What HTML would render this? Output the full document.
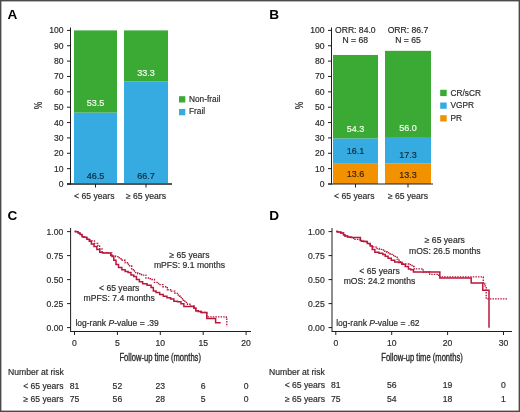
<!DOCTYPE html>
<html><head><meta charset="utf-8"><style>
html,body{margin:0;padding:0;background:#fff;}
svg{display:block;font-family:"Liberation Sans", sans-serif;will-change:transform;}
</style></head><body>
<svg width="520" height="412" viewBox="0 0 520 412">
<rect x="0" y="0" width="520" height="412" fill="#fff"/>
<text x="7.6" y="18.7" font-size="13.6" fill="#000" text-anchor="start" font-weight="bold"  >A</text>
<line x1="70.5" y1="27.5" x2="70.5" y2="184.5" stroke="#1e1e1e" stroke-width="1"/>
<line x1="67.0" y1="184.0" x2="70.5" y2="184.0" stroke="#1e1e1e" stroke-width="1"/>
<text x="63.5" y="187.0" font-size="8.6" fill="#2b2b2b" text-anchor="end" font-weight="normal" stroke="#2b2b2b" stroke-width="0.18" >0</text>
<line x1="67.0" y1="168.64" x2="70.5" y2="168.64" stroke="#1e1e1e" stroke-width="1"/>
<text x="63.5" y="171.64" font-size="8.6" fill="#2b2b2b" text-anchor="end" font-weight="normal" stroke="#2b2b2b" stroke-width="0.18" >10</text>
<line x1="67.0" y1="153.28" x2="70.5" y2="153.28" stroke="#1e1e1e" stroke-width="1"/>
<text x="63.5" y="156.28" font-size="8.6" fill="#2b2b2b" text-anchor="end" font-weight="normal" stroke="#2b2b2b" stroke-width="0.18" >20</text>
<line x1="67.0" y1="137.92000000000002" x2="70.5" y2="137.92000000000002" stroke="#1e1e1e" stroke-width="1"/>
<text x="63.5" y="140.92" font-size="8.6" fill="#2b2b2b" text-anchor="end" font-weight="normal" stroke="#2b2b2b" stroke-width="0.18" >30</text>
<line x1="67.0" y1="122.56" x2="70.5" y2="122.56" stroke="#1e1e1e" stroke-width="1"/>
<text x="63.5" y="125.56" font-size="8.6" fill="#2b2b2b" text-anchor="end" font-weight="normal" stroke="#2b2b2b" stroke-width="0.18" >40</text>
<line x1="67.0" y1="107.2" x2="70.5" y2="107.2" stroke="#1e1e1e" stroke-width="1"/>
<text x="63.5" y="110.2" font-size="8.6" fill="#2b2b2b" text-anchor="end" font-weight="normal" stroke="#2b2b2b" stroke-width="0.18" >50</text>
<line x1="67.0" y1="91.84" x2="70.5" y2="91.84" stroke="#1e1e1e" stroke-width="1"/>
<text x="63.5" y="94.84" font-size="8.6" fill="#2b2b2b" text-anchor="end" font-weight="normal" stroke="#2b2b2b" stroke-width="0.18" >60</text>
<line x1="67.0" y1="76.48" x2="70.5" y2="76.48" stroke="#1e1e1e" stroke-width="1"/>
<text x="63.5" y="79.48" font-size="8.6" fill="#2b2b2b" text-anchor="end" font-weight="normal" stroke="#2b2b2b" stroke-width="0.18" >70</text>
<line x1="67.0" y1="61.120000000000005" x2="70.5" y2="61.120000000000005" stroke="#1e1e1e" stroke-width="1"/>
<text x="63.5" y="64.12" font-size="8.6" fill="#2b2b2b" text-anchor="end" font-weight="normal" stroke="#2b2b2b" stroke-width="0.18" >80</text>
<line x1="67.0" y1="45.75999999999999" x2="70.5" y2="45.75999999999999" stroke="#1e1e1e" stroke-width="1"/>
<text x="63.5" y="48.76" font-size="8.6" fill="#2b2b2b" text-anchor="end" font-weight="normal" stroke="#2b2b2b" stroke-width="0.18" >90</text>
<line x1="67.0" y1="30.400000000000006" x2="70.5" y2="30.400000000000006" stroke="#1e1e1e" stroke-width="1"/>
<text x="63.5" y="33.4" font-size="8.6" fill="#2b2b2b" text-anchor="end" font-weight="normal" stroke="#2b2b2b" stroke-width="0.18" >100</text>
<line x1="67" y1="184" x2="172" y2="184" stroke="#1e1e1e" stroke-width="1"/>
<text x="0" y="0" font-size="10.5" fill="#2b2b2b" text-anchor="middle" font-weight="normal" stroke="#2b2b2b" stroke-width="0.18" transform="translate(42 105.5) rotate(-90) scale(0.8 1)">%</text>
<rect x="74" y="112.58" width="43" height="71.42" fill="#35abe2"/>
<rect x="74" y="30.4" width="43" height="82.18" fill="#3aaa35"/>
<rect x="124" y="81.55" width="44" height="102.45" fill="#35abe2"/>
<rect x="124" y="30.4" width="44" height="51.15" fill="#3aaa35"/>
<line x1="67" y1="184" x2="172" y2="184" stroke="#1e1e1e" stroke-width="1"/>
<line x1="95.5" y1="184" x2="95.5" y2="187.5" stroke="#1e1e1e" stroke-width="1"/>
<line x1="146" y1="184" x2="146" y2="187.5" stroke="#1e1e1e" stroke-width="1"/>
<text x="95.5" y="106" font-size="9" fill="#f4fbf2" text-anchor="middle" font-weight="normal" stroke="#f4fbf2" stroke-width="0.18" >53.5</text>
<text x="95.5" y="178.8" font-size="9" fill="#0f2c40" text-anchor="middle" font-weight="normal" stroke="#0f2c40" stroke-width="0.18" >46.5</text>
<text x="146" y="75.9" font-size="9" fill="#f4fbf2" text-anchor="middle" font-weight="normal" stroke="#f4fbf2" stroke-width="0.18" >33.3</text>
<text x="146" y="178.8" font-size="9" fill="#0f2c40" text-anchor="middle" font-weight="normal" stroke="#0f2c40" stroke-width="0.18" >66.7</text>
<text x="94.3" y="199" font-size="8.6" fill="#2b2b2b" text-anchor="middle" font-weight="normal" stroke="#2b2b2b" stroke-width="0.18" >&lt; 65 years</text>
<text x="146" y="199" font-size="8.6" fill="#2b2b2b" text-anchor="middle" font-weight="normal" stroke="#2b2b2b" stroke-width="0.18" >≥ 65 years</text>
<rect x="179" y="96.2" width="6.3" height="6.3" fill="#3aaa35"/>
<rect x="179" y="109" width="6.3" height="6.3" fill="#35abe2"/>
<text x="189" y="101.8" font-size="8.3" fill="#2b2b2b" text-anchor="start" font-weight="normal" stroke="#2b2b2b" stroke-width="0.18" >Non-frail</text>
<text x="189" y="114.2" font-size="8.3" fill="#2b2b2b" text-anchor="start" font-weight="normal" stroke="#2b2b2b" stroke-width="0.18" >Frail</text>
<text x="269.3" y="18.7" font-size="13.6" fill="#000" text-anchor="start" font-weight="bold"  >B</text>
<line x1="331.5" y1="27.5" x2="331.5" y2="184.5" stroke="#1e1e1e" stroke-width="1"/>
<line x1="328.0" y1="184.0" x2="331.5" y2="184.0" stroke="#1e1e1e" stroke-width="1"/>
<text x="324.5" y="187.0" font-size="8.6" fill="#2b2b2b" text-anchor="end" font-weight="normal" stroke="#2b2b2b" stroke-width="0.18" >0</text>
<line x1="328.0" y1="168.64" x2="331.5" y2="168.64" stroke="#1e1e1e" stroke-width="1"/>
<text x="324.5" y="171.64" font-size="8.6" fill="#2b2b2b" text-anchor="end" font-weight="normal" stroke="#2b2b2b" stroke-width="0.18" >10</text>
<line x1="328.0" y1="153.28" x2="331.5" y2="153.28" stroke="#1e1e1e" stroke-width="1"/>
<text x="324.5" y="156.28" font-size="8.6" fill="#2b2b2b" text-anchor="end" font-weight="normal" stroke="#2b2b2b" stroke-width="0.18" >20</text>
<line x1="328.0" y1="137.92000000000002" x2="331.5" y2="137.92000000000002" stroke="#1e1e1e" stroke-width="1"/>
<text x="324.5" y="140.92" font-size="8.6" fill="#2b2b2b" text-anchor="end" font-weight="normal" stroke="#2b2b2b" stroke-width="0.18" >30</text>
<line x1="328.0" y1="122.56" x2="331.5" y2="122.56" stroke="#1e1e1e" stroke-width="1"/>
<text x="324.5" y="125.56" font-size="8.6" fill="#2b2b2b" text-anchor="end" font-weight="normal" stroke="#2b2b2b" stroke-width="0.18" >40</text>
<line x1="328.0" y1="107.2" x2="331.5" y2="107.2" stroke="#1e1e1e" stroke-width="1"/>
<text x="324.5" y="110.2" font-size="8.6" fill="#2b2b2b" text-anchor="end" font-weight="normal" stroke="#2b2b2b" stroke-width="0.18" >50</text>
<line x1="328.0" y1="91.84" x2="331.5" y2="91.84" stroke="#1e1e1e" stroke-width="1"/>
<text x="324.5" y="94.84" font-size="8.6" fill="#2b2b2b" text-anchor="end" font-weight="normal" stroke="#2b2b2b" stroke-width="0.18" >60</text>
<line x1="328.0" y1="76.48" x2="331.5" y2="76.48" stroke="#1e1e1e" stroke-width="1"/>
<text x="324.5" y="79.48" font-size="8.6" fill="#2b2b2b" text-anchor="end" font-weight="normal" stroke="#2b2b2b" stroke-width="0.18" >70</text>
<line x1="328.0" y1="61.120000000000005" x2="331.5" y2="61.120000000000005" stroke="#1e1e1e" stroke-width="1"/>
<text x="324.5" y="64.12" font-size="8.6" fill="#2b2b2b" text-anchor="end" font-weight="normal" stroke="#2b2b2b" stroke-width="0.18" >80</text>
<line x1="328.0" y1="45.75999999999999" x2="331.5" y2="45.75999999999999" stroke="#1e1e1e" stroke-width="1"/>
<text x="324.5" y="48.76" font-size="8.6" fill="#2b2b2b" text-anchor="end" font-weight="normal" stroke="#2b2b2b" stroke-width="0.18" >90</text>
<line x1="328.0" y1="30.400000000000006" x2="331.5" y2="30.400000000000006" stroke="#1e1e1e" stroke-width="1"/>
<text x="324.5" y="33.4" font-size="8.6" fill="#2b2b2b" text-anchor="end" font-weight="normal" stroke="#2b2b2b" stroke-width="0.18" >100</text>
<text x="0" y="0" font-size="10.5" fill="#2b2b2b" text-anchor="middle" font-weight="normal" stroke="#2b2b2b" stroke-width="0.18" transform="translate(302.8 105.5) rotate(-90) scale(0.8 1)">%</text>
<rect x="333" y="163.11" width="45" height="20.89" fill="#f39200"/>
<rect x="333" y="138.38" width="45" height="24.73" fill="#35abe2"/>
<rect x="333" y="54.98" width="45" height="83.4" fill="#3aaa35"/>
<rect x="385" y="163.57" width="46" height="20.43" fill="#f39200"/>
<rect x="385" y="137.0" width="46" height="26.57" fill="#35abe2"/>
<rect x="385" y="50.83" width="46" height="86.17" fill="#3aaa35"/>
<line x1="328" y1="184" x2="433" y2="184" stroke="#1e1e1e" stroke-width="1"/>
<line x1="355.5" y1="184" x2="355.5" y2="187.5" stroke="#1e1e1e" stroke-width="1"/>
<line x1="408" y1="184" x2="408" y2="187.5" stroke="#1e1e1e" stroke-width="1"/>
<text x="355.5" y="131.8" font-size="9" fill="#f4fbf2" text-anchor="middle" font-weight="normal" stroke="#f4fbf2" stroke-width="0.18" >54.3</text>
<text x="355.5" y="153.6" font-size="9" fill="#0f2c40" text-anchor="middle" font-weight="normal" stroke="#0f2c40" stroke-width="0.18" >16.1</text>
<text x="355.5" y="176.5" font-size="9" fill="#3a2306" text-anchor="middle" font-weight="normal" stroke="#3a2306" stroke-width="0.18" >13.6</text>
<text x="408" y="131.2" font-size="9" fill="#f4fbf2" text-anchor="middle" font-weight="normal" stroke="#f4fbf2" stroke-width="0.18" >56.0</text>
<text x="408" y="157.7" font-size="9" fill="#0f2c40" text-anchor="middle" font-weight="normal" stroke="#0f2c40" stroke-width="0.18" >17.3</text>
<text x="408" y="177.7" font-size="9" fill="#3a2306" text-anchor="middle" font-weight="normal" stroke="#3a2306" stroke-width="0.18" >13.3</text>
<text x="355.3" y="33" font-size="8.6" fill="#2b2b2b" text-anchor="middle" font-weight="normal" stroke="#2b2b2b" stroke-width="0.18" >ORR: 84.0</text>
<text x="355.3" y="42.8" font-size="8.6" fill="#2b2b2b" text-anchor="middle" font-weight="normal" stroke="#2b2b2b" stroke-width="0.18" >N = 68</text>
<text x="408" y="33" font-size="8.6" fill="#2b2b2b" text-anchor="middle" font-weight="normal" stroke="#2b2b2b" stroke-width="0.18" >ORR: 86.7</text>
<text x="408" y="43" font-size="8.6" fill="#2b2b2b" text-anchor="middle" font-weight="normal" stroke="#2b2b2b" stroke-width="0.18" >N = 65</text>
<text x="354.3" y="198.6" font-size="8.6" fill="#2b2b2b" text-anchor="middle" font-weight="normal" stroke="#2b2b2b" stroke-width="0.18" >&lt; 65 years</text>
<text x="408" y="198.6" font-size="8.6" fill="#2b2b2b" text-anchor="middle" font-weight="normal" stroke="#2b2b2b" stroke-width="0.18" >≥ 65 years</text>
<rect x="440.2" y="89.8" width="6.5" height="6.3" fill="#3aaa35"/>
<rect x="440.2" y="102.5" width="6.5" height="6.3" fill="#35abe2"/>
<rect x="440.2" y="115.2" width="6.5" height="6.3" fill="#f39200"/>
<text x="450.5" y="95.6" font-size="8.3" fill="#2b2b2b" text-anchor="start" font-weight="normal" stroke="#2b2b2b" stroke-width="0.18" >CR/sCR</text>
<text x="450.5" y="108.4" font-size="8.3" fill="#2b2b2b" text-anchor="start" font-weight="normal" stroke="#2b2b2b" stroke-width="0.18" >VGPR</text>
<text x="450.5" y="121.1" font-size="8.3" fill="#2b2b2b" text-anchor="start" font-weight="normal" stroke="#2b2b2b" stroke-width="0.18" >PR</text>
<text x="7.5" y="220.2" font-size="13.6" fill="#000" text-anchor="start" font-weight="bold"  >C</text>
<line x1="70.6" y1="228" x2="70.6" y2="332" stroke="#1e1e1e" stroke-width="1"/>
<line x1="70.6" y1="331.5" x2="251" y2="331.5" stroke="#1e1e1e" stroke-width="1"/>
<line x1="67.1" y1="327.6" x2="70.6" y2="327.6" stroke="#1e1e1e" stroke-width="1"/>
<text x="63.3" y="330.6" font-size="8.6" fill="#2b2b2b" text-anchor="end" font-weight="normal" stroke="#2b2b2b" stroke-width="0.18" >0.00</text>
<line x1="67.1" y1="303.6" x2="70.6" y2="303.6" stroke="#1e1e1e" stroke-width="1"/>
<text x="63.3" y="306.6" font-size="8.6" fill="#2b2b2b" text-anchor="end" font-weight="normal" stroke="#2b2b2b" stroke-width="0.18" >0.25</text>
<line x1="67.1" y1="279.6" x2="70.6" y2="279.6" stroke="#1e1e1e" stroke-width="1"/>
<text x="63.3" y="282.6" font-size="8.6" fill="#2b2b2b" text-anchor="end" font-weight="normal" stroke="#2b2b2b" stroke-width="0.18" >0.50</text>
<line x1="67.1" y1="255.60000000000002" x2="70.6" y2="255.60000000000002" stroke="#1e1e1e" stroke-width="1"/>
<text x="63.3" y="258.6" font-size="8.6" fill="#2b2b2b" text-anchor="end" font-weight="normal" stroke="#2b2b2b" stroke-width="0.18" >0.75</text>
<line x1="67.1" y1="231.60000000000002" x2="70.6" y2="231.60000000000002" stroke="#1e1e1e" stroke-width="1"/>
<text x="63.3" y="234.6" font-size="8.6" fill="#2b2b2b" text-anchor="end" font-weight="normal" stroke="#2b2b2b" stroke-width="0.18" >1.00</text>
<line x1="74.5" y1="331.5" x2="74.5" y2="335" stroke="#1e1e1e" stroke-width="1"/>
<text x="74.5" y="346" font-size="8.6" fill="#2b2b2b" text-anchor="middle" font-weight="normal" stroke="#2b2b2b" stroke-width="0.18" >0</text>
<line x1="117.4" y1="331.5" x2="117.4" y2="335" stroke="#1e1e1e" stroke-width="1"/>
<text x="117.4" y="346" font-size="8.6" fill="#2b2b2b" text-anchor="middle" font-weight="normal" stroke="#2b2b2b" stroke-width="0.18" >5</text>
<line x1="160.3" y1="331.5" x2="160.3" y2="335" stroke="#1e1e1e" stroke-width="1"/>
<text x="160.3" y="346" font-size="8.6" fill="#2b2b2b" text-anchor="middle" font-weight="normal" stroke="#2b2b2b" stroke-width="0.18" >10</text>
<line x1="203.2" y1="331.5" x2="203.2" y2="335" stroke="#1e1e1e" stroke-width="1"/>
<text x="203.2" y="346" font-size="8.6" fill="#2b2b2b" text-anchor="middle" font-weight="normal" stroke="#2b2b2b" stroke-width="0.18" >15</text>
<line x1="246.1" y1="331.5" x2="246.1" y2="335" stroke="#1e1e1e" stroke-width="1"/>
<text x="246.1" y="346" font-size="8.6" fill="#2b2b2b" text-anchor="middle" font-weight="normal" stroke="#2b2b2b" stroke-width="0.18" >20</text>
<text x="160.2" y="361" font-size="10.5" fill="#2b2b2b" text-anchor="middle" font-weight="normal"  stroke="#2b2b2b" stroke-width="0.35" transform="translate(160.2 0) scale(0.725 1) translate(-160.2 0)">Follow-up time (months)</text>
<text x="189.5" y="257.6" font-size="8.6" fill="#2b2b2b" text-anchor="middle" font-weight="normal" stroke="#2b2b2b" stroke-width="0.18" >≥ 65 years</text>
<text x="189.5" y="268.1" font-size="8.6" fill="#2b2b2b" text-anchor="middle" font-weight="normal" stroke="#2b2b2b" stroke-width="0.18" >mPFS: 9.1 months</text>
<text x="119.2" y="290.6" font-size="8.6" fill="#2b2b2b" text-anchor="middle" font-weight="normal" stroke="#2b2b2b" stroke-width="0.18" >&lt; 65 years</text>
<text x="119.2" y="301.2" font-size="8.6" fill="#2b2b2b" text-anchor="middle" font-weight="normal" stroke="#2b2b2b" stroke-width="0.18" >mPFS: 7.4 months</text>
<text x="75.4" y="326.2" font-size="8.5" fill="#2b2b2b" text-anchor="start" font-weight="normal" stroke="#2b2b2b" stroke-width="0.18" >log-rank <tspan font-style="italic">P</tspan>-value = .39</text>
<text x="8" y="375" font-size="8.6" fill="#2b2b2b" text-anchor="start" font-weight="normal" stroke="#2b2b2b" stroke-width="0.18" >Number at risk</text>
<text x="63.5" y="388.6" font-size="8.6" fill="#2b2b2b" text-anchor="end" font-weight="normal" stroke="#2b2b2b" stroke-width="0.18" >&lt; 65 years</text>
<text x="63.5" y="402" font-size="8.6" fill="#2b2b2b" text-anchor="end" font-weight="normal" stroke="#2b2b2b" stroke-width="0.18" >≥ 65 years</text>
<text x="74.5" y="388.6" font-size="8.6" fill="#2b2b2b" text-anchor="middle" font-weight="normal" stroke="#2b2b2b" stroke-width="0.18" >81</text>
<text x="74.5" y="402" font-size="8.6" fill="#2b2b2b" text-anchor="middle" font-weight="normal" stroke="#2b2b2b" stroke-width="0.18" >75</text>
<text x="117.4" y="388.6" font-size="8.6" fill="#2b2b2b" text-anchor="middle" font-weight="normal" stroke="#2b2b2b" stroke-width="0.18" >52</text>
<text x="117.4" y="402" font-size="8.6" fill="#2b2b2b" text-anchor="middle" font-weight="normal" stroke="#2b2b2b" stroke-width="0.18" >56</text>
<text x="160.3" y="388.6" font-size="8.6" fill="#2b2b2b" text-anchor="middle" font-weight="normal" stroke="#2b2b2b" stroke-width="0.18" >23</text>
<text x="160.3" y="402" font-size="8.6" fill="#2b2b2b" text-anchor="middle" font-weight="normal" stroke="#2b2b2b" stroke-width="0.18" >28</text>
<text x="203.2" y="388.6" font-size="8.6" fill="#2b2b2b" text-anchor="middle" font-weight="normal" stroke="#2b2b2b" stroke-width="0.18" >6</text>
<text x="203.2" y="402" font-size="8.6" fill="#2b2b2b" text-anchor="middle" font-weight="normal" stroke="#2b2b2b" stroke-width="0.18" >5</text>
<text x="246.1" y="388.6" font-size="8.6" fill="#2b2b2b" text-anchor="middle" font-weight="normal" stroke="#2b2b2b" stroke-width="0.18" >0</text>
<text x="246.1" y="402" font-size="8.6" fill="#2b2b2b" text-anchor="middle" font-weight="normal" stroke="#2b2b2b" stroke-width="0.18" >0</text>
<text x="269.3" y="220.2" font-size="13.6" fill="#000" text-anchor="start" font-weight="bold"  >D</text>
<line x1="332" y1="228" x2="332" y2="332" stroke="#1e1e1e" stroke-width="1"/>
<line x1="332" y1="331.5" x2="512" y2="331.5" stroke="#1e1e1e" stroke-width="1"/>
<line x1="328.5" y1="327.6" x2="332" y2="327.6" stroke="#1e1e1e" stroke-width="1"/>
<text x="324.7" y="330.6" font-size="8.6" fill="#2b2b2b" text-anchor="end" font-weight="normal" stroke="#2b2b2b" stroke-width="0.18" >0.00</text>
<line x1="328.5" y1="303.6" x2="332" y2="303.6" stroke="#1e1e1e" stroke-width="1"/>
<text x="324.7" y="306.6" font-size="8.6" fill="#2b2b2b" text-anchor="end" font-weight="normal" stroke="#2b2b2b" stroke-width="0.18" >0.25</text>
<line x1="328.5" y1="279.6" x2="332" y2="279.6" stroke="#1e1e1e" stroke-width="1"/>
<text x="324.7" y="282.6" font-size="8.6" fill="#2b2b2b" text-anchor="end" font-weight="normal" stroke="#2b2b2b" stroke-width="0.18" >0.50</text>
<line x1="328.5" y1="255.60000000000002" x2="332" y2="255.60000000000002" stroke="#1e1e1e" stroke-width="1"/>
<text x="324.7" y="258.6" font-size="8.6" fill="#2b2b2b" text-anchor="end" font-weight="normal" stroke="#2b2b2b" stroke-width="0.18" >0.75</text>
<line x1="328.5" y1="231.60000000000002" x2="332" y2="231.60000000000002" stroke="#1e1e1e" stroke-width="1"/>
<text x="324.7" y="234.6" font-size="8.6" fill="#2b2b2b" text-anchor="end" font-weight="normal" stroke="#2b2b2b" stroke-width="0.18" >1.00</text>
<line x1="335.8" y1="331.5" x2="335.8" y2="335" stroke="#1e1e1e" stroke-width="1"/>
<text x="335.8" y="346" font-size="8.6" fill="#2b2b2b" text-anchor="middle" font-weight="normal" stroke="#2b2b2b" stroke-width="0.18" >0</text>
<line x1="391.7" y1="331.5" x2="391.7" y2="335" stroke="#1e1e1e" stroke-width="1"/>
<text x="391.7" y="346" font-size="8.6" fill="#2b2b2b" text-anchor="middle" font-weight="normal" stroke="#2b2b2b" stroke-width="0.18" >10</text>
<line x1="447.6" y1="331.5" x2="447.6" y2="335" stroke="#1e1e1e" stroke-width="1"/>
<text x="447.6" y="346" font-size="8.6" fill="#2b2b2b" text-anchor="middle" font-weight="normal" stroke="#2b2b2b" stroke-width="0.18" >20</text>
<line x1="503.5" y1="331.5" x2="503.5" y2="335" stroke="#1e1e1e" stroke-width="1"/>
<text x="503.5" y="346" font-size="8.6" fill="#2b2b2b" text-anchor="middle" font-weight="normal" stroke="#2b2b2b" stroke-width="0.18" >30</text>
<text x="422" y="361" font-size="10.5" fill="#2b2b2b" text-anchor="middle" font-weight="normal"  stroke="#2b2b2b" stroke-width="0.35" transform="translate(422 0) scale(0.725 1) translate(-422 0)">Follow-up time (months)</text>
<text x="444.8" y="243.2" font-size="8.6" fill="#2b2b2b" text-anchor="middle" font-weight="normal" stroke="#2b2b2b" stroke-width="0.18" >≥ 65 years</text>
<text x="444.8" y="254.1" font-size="8.6" fill="#2b2b2b" text-anchor="middle" font-weight="normal" stroke="#2b2b2b" stroke-width="0.18" >mOS: 26.5 months</text>
<text x="379.5" y="273.7" font-size="8.6" fill="#2b2b2b" text-anchor="middle" font-weight="normal" stroke="#2b2b2b" stroke-width="0.18" >&lt; 65 years</text>
<text x="379.5" y="283.5" font-size="8.6" fill="#2b2b2b" text-anchor="middle" font-weight="normal" stroke="#2b2b2b" stroke-width="0.18" >mOS: 24.2 months</text>
<text x="336.2" y="326.2" font-size="8.5" fill="#2b2b2b" text-anchor="start" font-weight="normal" stroke="#2b2b2b" stroke-width="0.18" >log-rank <tspan font-style="italic">P</tspan>-value = .62</text>
<text x="269" y="374.5" font-size="8.6" fill="#2b2b2b" text-anchor="start" font-weight="normal" stroke="#2b2b2b" stroke-width="0.18" >Number at risk</text>
<text x="325" y="388.4" font-size="8.6" fill="#2b2b2b" text-anchor="end" font-weight="normal" stroke="#2b2b2b" stroke-width="0.18" >&lt; 65 years</text>
<text x="325" y="402.2" font-size="8.6" fill="#2b2b2b" text-anchor="end" font-weight="normal" stroke="#2b2b2b" stroke-width="0.18" >≥ 65 years</text>
<text x="335.8" y="388.4" font-size="8.6" fill="#2b2b2b" text-anchor="middle" font-weight="normal" stroke="#2b2b2b" stroke-width="0.18" >81</text>
<text x="335.8" y="402.2" font-size="8.6" fill="#2b2b2b" text-anchor="middle" font-weight="normal" stroke="#2b2b2b" stroke-width="0.18" >75</text>
<text x="391.7" y="388.4" font-size="8.6" fill="#2b2b2b" text-anchor="middle" font-weight="normal" stroke="#2b2b2b" stroke-width="0.18" >56</text>
<text x="391.7" y="402.2" font-size="8.6" fill="#2b2b2b" text-anchor="middle" font-weight="normal" stroke="#2b2b2b" stroke-width="0.18" >54</text>
<text x="447.6" y="388.4" font-size="8.6" fill="#2b2b2b" text-anchor="middle" font-weight="normal" stroke="#2b2b2b" stroke-width="0.18" >19</text>
<text x="447.6" y="402.2" font-size="8.6" fill="#2b2b2b" text-anchor="middle" font-weight="normal" stroke="#2b2b2b" stroke-width="0.18" >18</text>
<text x="503.5" y="388.4" font-size="8.6" fill="#2b2b2b" text-anchor="middle" font-weight="normal" stroke="#2b2b2b" stroke-width="0.18" >0</text>
<text x="503.5" y="402.2" font-size="8.6" fill="#2b2b2b" text-anchor="middle" font-weight="normal" stroke="#2b2b2b" stroke-width="0.18" >1</text>
<path d="M74.6,231.5 L75.9,231.5 L75.9,231.8 L77.2,231.8 L78.1,231.8 L78.1,233.0 L79,233.0 L80.15,233.0 L80.15,234.4 L81.3,234.4 L82.05,234.4 L82.05,236.7 L82.8,236.7 L84.1,236.7 L84.1,237.3 L85.4,237.3 L86.85,237.3 L86.85,239.3 L88.3,239.3 L89.25,239.3 L89.25,241.2 L90.2,241.2 L91.35,241.2 L91.35,243.9 L92.5,243.9 L94.0,243.9 L94.0,246.5 L95.5,246.5 L96.85,246.5 L96.85,249.5 L98.2,249.5 L99.75,249.5 L99.75,252.2 L101.3,252.2 L102.5,252.2 L102.5,252.9 L103.7,252.9 L110.1,252.9 L110.7,252.9 L110.7,255.5 L111.3,255.5 L112.0,255.5 L112.0,256.6 L112.7,256.6 L113.8,256.6 L113.8,260.2 L114.9,260.2 L116.0,260.2 L116.0,264.6 L117.1,264.6 L118.55,264.6 L118.55,267.5 L120,267.5 L121.85,267.5 L121.85,269.7 L123.7,269.7 L125.15,269.7 L125.15,271.5 L126.6,271.5 L128.05,271.5 L128.05,272.6 L129.5,272.6 L130.95,272.6 L130.95,275.1 L132.4,275.1 L133.7,275.1 L133.7,276.6 L135,276.6 L136.45,276.6 L136.45,279.5 L137.9,279.5 L139.35,279.5 L139.35,281.7 L140.8,281.7 L142.65,281.7 L142.65,283.8 L144.5,283.8 L147.05,283.8 L147.05,285.3 L149.6,285.3 L151.05,285.3 L151.05,287.5 L152.5,287.5 L153.35,287.5 L153.35,291.1 L154.2,291.1 L156.0,291.1 L156.0,292.6 L157.8,292.6 L159.65,292.6 L159.65,294.4 L161.5,294.4 L163.3,294.4 L163.3,296.2 L165.1,296.2 L166.95,296.2 L166.95,297.7 L168.8,297.7 L170.6,297.7 L170.6,299.1 L172.4,299.1 L173.85,299.1 L173.85,301.3 L175.3,301.3 L177.4,301.3 L177.4,301.7 L179.5,301.7 L180.95,301.7 L180.95,303.8 L182.4,303.8 L183.85,303.8 L183.85,306.4 L185.3,306.4 L192.6,306.4 L194.05,306.4 L194.05,308.2 L195.5,308.2 L195.85,308.2 L195.85,310.8 L196.2,310.8 L198.4,310.8 L198.4,311.5 L200.6,311.5 L201.0,311.5 L201.0,312.5 L201.4,312.5 L206.8,312.5 L206.8,318.6 L215.6,318.6 L215.6,322.7 L220.7,322.7" fill="none" stroke="#b9183d" stroke-width="1.5"  stroke-linejoin="miter"/>
<path d="M74.6,231.5 L75.9,231.5 L75.9,231.8 L77.2,231.8 L78.1,231.8 L78.1,233.0 L79,233.0 L80.15,233.0 L80.15,234.4 L81.3,234.4 L82.05,234.4 L82.05,236.7 L82.8,236.7 L84.1,236.7 L84.1,237.3 L85.4,237.3 L86.85,237.3 L86.85,239.3 L88.3,239.3 L90.15,239.3 L90.15,240.8 L92,240.8 L94.45,240.8 L94.45,243.4 L96.9,243.4 L97.85,243.4 L97.85,246.0 L98.8,246.0 L99.6,246.0 L99.6,248.7 L100.4,248.7 L101.95,248.7 L101.95,252.6 L103.5,252.6 L106.8,252.6 L106.8,252.9 L110.1,252.9 L111.8,252.9 L111.8,255.8 L113.5,255.8 L115.65,255.8 L115.65,256.6 L117.8,256.6 L119.25,256.6 L119.25,258.7 L120.7,258.7 L122.2,258.7 L122.2,260.2 L123.7,260.2 L125.15,260.2 L125.15,262.7 L126.6,262.7 L128.4,262.7 L128.4,265.7 L130.2,265.7 L131.65,265.7 L131.65,269.7 L133.1,269.7 L134.55,269.7 L134.55,272.6 L136,272.6 L137.7,272.6 L137.7,273.7 L139.4,273.7 L141.55,273.7 L141.55,275.1 L143.7,275.1 L145.9,275.1 L145.9,278.0 L148.1,278.0 L150.3,278.0 L150.3,279.5 L152.5,279.5 L154.45,279.5 L154.45,282.4 L156.4,282.4 L158.55,282.4 L158.55,284.6 L160.7,284.6 L162.9,284.6 L162.9,286.7 L165.1,286.7 L167.3,286.7 L167.3,289.7 L169.5,289.7 L171.3,289.7 L171.3,291.1 L173.1,291.1 L174.95,291.1 L174.95,293.3 L176.8,293.3 L178.25,293.3 L178.25,296.2 L179.7,296.2 L180.3,296.2 L180.3,297.3 L180.9,297.3 L182.35,297.3 L182.35,300.2 L183.8,300.2 L184.9,300.2 L184.9,302.4 L186,302.4 L187.45,302.4 L187.45,304.2 L188.9,304.2 L190.75,304.2 L190.75,305.8 L192.6,305.8 L194.05,305.8 L194.05,308.2 L195.5,308.2 L195.85,308.2 L195.85,310.8 L196.2,310.8 L198.4,310.8 L198.4,311.5 L200.6,311.5 L201.0,311.5 L201.0,312.5 L201.4,312.5 L206.8,312.5 L206.8,316.9 L225.8,316.9 L226.3,316.9 L226.3,318.3 L226.8,318.3 L226.8,326.4" fill="none" stroke="#b9183d" stroke-width="1.35" stroke-dasharray="1.5 1.1" stroke-linejoin="miter"/>
<path d="M336.2,231.5 L337.5,231.5 L337.5,232.1 L338.8,232.1 L340.85,232.1 L340.85,233.0 L342.9,233.0 L343.5,233.0 L343.5,234.7 L344.1,234.7 L344.95,234.7 L344.95,235.9 L345.8,235.9 L347.55,235.9 L347.55,237.1 L349.3,237.1 L351.05,237.1 L351.05,237.4 L352.8,237.4 L356.3,237.4 L356.3,237.6 L359.8,237.6 L360.4,237.6 L360.4,240.6 L361,240.6 L361.55,240.6 L361.55,241.2 L362.1,241.2 L363.85,241.2 L363.85,241.5 L365.6,241.5 L367.35,241.5 L367.35,243.6 L369.1,243.6 L370.25,243.6 L370.25,245.9 L371.4,245.9 L372.25,245.9 L372.25,249.4 L373.1,249.4 L374.85,249.4 L374.85,252.3 L376.6,252.3 L378.95,252.3 L378.95,253.2 L381.3,253.2 L382.75,253.2 L382.75,254.6 L384.2,254.6 L385.25,254.6 L385.25,256.2 L386.3,256.2 L388.05,256.2 L388.05,258.2 L389.8,258.2 L391.25,258.2 L391.25,260.2 L392.7,260.2 L394.75,260.2 L394.75,262.0 L396.8,262.0 L398.55,262.0 L398.55,262.6 L400.3,262.6 L401.75,262.6 L401.75,264.3 L403.2,264.3 L405.25,264.3 L405.25,266.6 L407.3,266.6 L408.45,266.6 L408.45,269.0 L409.6,269.0 L410.75,269.0 L410.75,269.7 L411.9,269.7 L413.45,269.7 L413.45,272.0 L415,272.0 L439.1,272.0 L439.85,272.0 L439.85,278.0 L440.6,278.0 L471.2,278.0 L471.2,283.0 L482.8,283.0 L482.8,290.2 L489,290.2 L489,327.8" fill="none" stroke="#b9183d" stroke-width="1.5"  stroke-linejoin="miter"/>
<path d="M336.2,231.5 L337.5,231.5 L337.5,232.1 L338.8,232.1 L340.85,232.1 L340.85,233.0 L342.9,233.0 L343.5,233.0 L343.5,234.7 L344.1,234.7 L344.95,234.7 L344.95,235.9 L345.8,235.9 L347.55,235.9 L347.55,237.1 L349.3,237.1 L351.05,237.1 L351.05,237.4 L352.8,237.4 L353.65,237.4 L353.65,239.4 L354.5,239.4 L359,239.4 L360.0,239.4 L360.0,240.6 L361,240.6 L361.55,240.6 L361.55,241.2 L362.1,241.2 L363.85,241.2 L363.85,241.5 L365.6,241.5 L367.35,241.5 L367.35,243.6 L369.1,243.6 L370.25,243.6 L370.25,245.9 L371.4,245.9 L373.15,245.9 L373.15,246.8 L374.9,246.8 L376.05,246.8 L376.05,248.5 L377.2,248.5 L379.25,248.5 L379.25,249.4 L381.3,249.4 L382.45,249.4 L382.45,250.0 L383.6,250.0 L384.8,250.0 L384.8,252.0 L386,252.0 L387.35,252.0 L387.35,252.7 L388.7,252.7 L390.15,252.7 L390.15,254.4 L391.6,254.4 L393.6,254.4 L393.6,256.4 L395.6,256.4 L397.1,256.4 L397.1,259.1 L398.6,259.1 L399.15,259.1 L399.15,260.8 L399.7,260.8 L400.35,260.8 L400.35,262.5 L401,262.5 L402.1,262.5 L402.1,264.0 L403.2,264.0 L407.3,264.0 L409.05,264.0 L409.05,264.6 L410.8,264.6 L412.1,264.6 L412.1,266.5 L413.4,266.5 L414.2,266.5 L414.2,268.9 L415,268.9 L422.8,268.9 L423.15,268.9 L423.15,272.0 L423.5,272.0 L429.75,272.0 L429.75,274.3 L436,274.3 L438.7,274.3 L438.7,276.9 L441.4,276.9 L483.3,276.9 L483.3,283.5 L484.75,283.5 L484.75,285.9 L486.2,285.9 L486.2,298.8 L507.8,298.8" fill="none" stroke="#b9183d" stroke-width="1.35" stroke-dasharray="1.5 1.1" stroke-linejoin="miter"/>
<rect x="0.7" y="0.7" width="518.6" height="410.6" fill="none" stroke="#4a4a4a" stroke-width="1.4"/>
</svg>
</body></html>
